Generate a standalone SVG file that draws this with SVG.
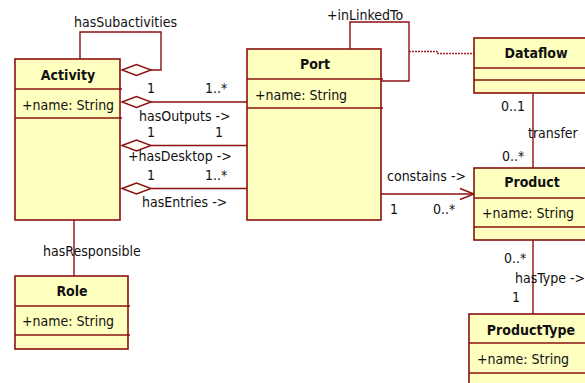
<svg xmlns="http://www.w3.org/2000/svg" width="585" height="383" viewBox="0 0 585 383">
<style>
.box{fill:#ffffc0;stroke:#8b1010;stroke-width:1.6}
.div{stroke:#8b1010;stroke-width:1.4}
.ln{fill:none;stroke:#8b1010;stroke-width:1.4}
.dia{fill:#fffff8;stroke:#8b1010;stroke-width:1.4}
.dot{fill:none;stroke:#a02020;stroke-width:1.4;stroke-dasharray:2 1}
text{font-family:"DejaVu Sans Condensed","Liberation Sans",sans-serif;font-size:14px;fill:#111}
.t{font-weight:bold;text-anchor:middle}
</style>
<rect width="585" height="383" fill="#ffffff"/>
<g id="connectors">
<polyline class="ln" points="80,59 80,32 161,32 161,70 151,70"/>
<polygon class="dia" points="122,70 136.5,64.5 151,70 136.5,75.5"/>
<line class="ln" x1="151" y1="102" x2="247" y2="102"/>
<polygon class="dia" points="122,102 136.5,96.5 151,102 136.5,107.5"/>
<line class="ln" x1="151" y1="145.5" x2="247" y2="145.5"/>
<polygon class="dia" points="122,145.5 136.5,140 151,145.5 136.5,151"/>
<line class="ln" x1="151" y1="188.5" x2="247" y2="188.5"/>
<polygon class="dia" points="122,188.5 136.5,183 151,188.5 136.5,194"/>
<line class="ln" x1="74" y1="220" x2="74" y2="276"/>
<polyline class="ln" points="350,49 350,22 409,22 409,81 381,81"/>
<polyline class="dot" points="409,51.5 437,51.5 437,53.5 474,53.5"/>
<line class="ln" x1="533" y1="93" x2="533" y2="168"/>
<line class="ln" x1="381" y1="194" x2="474" y2="194"/>
<polyline class="ln" points="460,188.5 474,194 460,199.5"/>
<line class="ln" x1="533" y1="240" x2="533" y2="314"/>
<text x="74" y="26.5">hasSubactivities</text>
<text x="147" y="93">1</text>
<text x="205" y="93">1..*</text>
<text x="139" y="121">hasOutputs -&gt;</text>
<text x="147" y="137">1</text>
<text x="215" y="137">1</text>
<text x="128" y="160.5">+hasDesktop -&gt;</text>
<text x="147" y="180">1</text>
<text x="205" y="180">1..*</text>
<text x="142" y="207">hasEntries -&gt;</text>
<text x="43" y="256">hasResponsible</text>
<text x="327" y="20">+inLinkedTo</text>
<text x="501" y="111">0..1</text>
<text x="528" y="138">transfer</text>
<text x="502" y="161">0..*</text>
<text x="387" y="181">constains -&gt;</text>
<text x="390" y="214">1</text>
<text x="433" y="214">0..*</text>
<text x="504" y="263">0..*</text>
<text x="515" y="283">hasType -&gt;</text>
<text x="512" y="302">1</text>
</g>
<g id="Activity">
<rect class="box" x="15" y="59" width="105" height="161"/>
<line class="div" x1="15" y1="89" x2="122" y2="89"/>
<line class="div" x1="15" y1="118" x2="122" y2="118"/>
<text class="t" x="68" y="80">Activity</text>
<text x="22" y="110">+name: String</text>
</g>
<g id="Port">
<rect class="box" x="247" y="49" width="134" height="171"/>
<line class="div" x1="247" y1="79" x2="383" y2="79"/>
<line class="div" x1="247" y1="108" x2="383" y2="108"/>
<text class="t" x="315" y="69">Port</text>
<text x="255" y="100">+name: String</text>
</g>
<g id="Dataflow">
<rect class="box" x="474" y="38" width="124" height="55"/>
<line class="div" x1="474" y1="68" x2="598" y2="68"/>
<line class="div" x1="474" y1="80" x2="598" y2="80"/>
<text class="t" x="536" y="58">Dataflow</text>
</g>
<g id="Product">
<rect class="box" x="474" y="168" width="116" height="72"/>
<line class="div" x1="474" y1="198" x2="590" y2="198"/>
<line class="div" x1="474" y1="227" x2="590" y2="227"/>
<text class="t" x="532" y="187">Product</text>
<text x="482" y="218">+name: String</text>
</g>
<g id="Role">
<rect class="box" x="15" y="276" width="113" height="73"/>
<line class="div" x1="15" y1="306" x2="130" y2="306"/>
<line class="div" x1="15" y1="335" x2="130" y2="335"/>
<text class="t" x="72" y="296">Role</text>
<text x="22" y="326">+name: String</text>
</g>
<g id="ProductType">
<rect class="box" x="469" y="314" width="124" height="80"/>
<line class="div" x1="469" y1="343" x2="593" y2="343"/>
<line class="div" x1="469" y1="373" x2="593" y2="373"/>
<text class="t" x="531" y="335">ProductType</text>
<text x="477" y="364">+name: String</text>
</g>
</svg>
